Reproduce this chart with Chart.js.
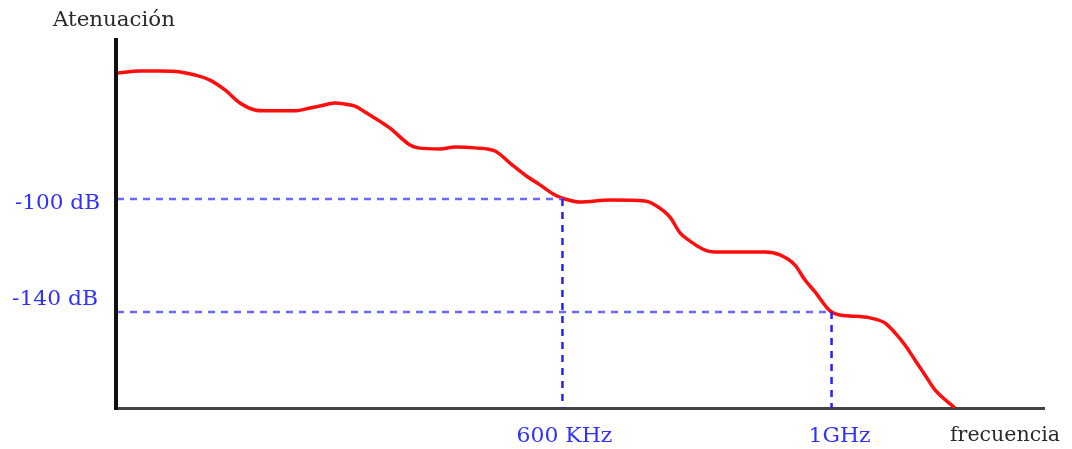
<!DOCTYPE html>
<html>
<head>
<meta charset="utf-8">
<script src="https://cdn.jsdelivr.net/npm/chart.js@4/dist/chart.umd.min.js"></script>
<style>
  html, body { margin: 0; padding: 0; background: #ffffff; }
  #wrap { width: 1072px; height: 449px; position: relative; }
</style>
</head>
<body>
<div id="wrap"><canvas id="c" width="1072" height="449"></canvas></div>
<script>
// ---- Data ----
const freqX = [0, 2.48, 4.63, 6.79, 8.41, 10.02, 11.64, 13.25, 14.87, 15.95, 19.18, 20.80, 21.88, 23.49, 24.57, 25.65, 26.72, 29.42, 31.57, 32.44, 34.81, 36.42, 38.58, 40.73, 42.35, 43.97, 45.58, 47.20, 48.28, 49.89, 53.13, 56.90, 57.97, 59.59, 60.67, 61.75, 63.36, 64.44, 69.83, 71.44, 73.06, 74.14, 75.22, 76.83, 77.91, 78.99, 81.14, 82.76, 83.84, 84.91, 85.99, 87.07, 88.15, 90.30];
const attenDb = [-55.4, -54.7, -54.7, -55.0, -56.1, -57.9, -61.4, -66.0, -68.5, -68.8, -68.8, -67.8, -67.1, -66.0, -66.4, -67.1, -69.2, -74.9, -80.9, -81.9, -82.3, -81.6, -81.9, -83.0, -87.3, -91.5, -95.0, -98.6, -100.0, -101.1, -100.4, -100.7, -102.1, -106.4, -112.0, -114.9, -118.1, -118.8, -118.8, -119.8, -123.4, -128.7, -132.9, -139.6, -141.1, -141.4, -142.1, -143.9, -147.4, -151.7, -157.0, -162.3, -167.6, -174.0];

const markerDb = [-100, -140];
const markerDbLabels = ["-100 dB", "-140 dB"];
const markerFreq = [48, 77];
const markerFreqLabels = ["600 KHz", "1GHz"];
const yAxisTitle = "Atenuación";
const xAxisTitle = "frecuencia";

const X_MIN = 0, X_MAX = 100, Y_MIN = -174, Y_MAX = -43;

const curve = freqX.map((x, i) => ({ x: x, y: attenDb[i] }));
const guides = markerDb.map((db, i) => ([
  { x: X_MIN, y: db }, { x: markerFreq[i], y: db }, { x: markerFreq[i], y: Y_MIN }
]));

const FONT = '"DejaVu Serif", "Liberation Serif", serif';

function fitText(ctx, text, x, yMid, width, size, color, weight) {
  ctx.save();
  ctx.font = (weight || 'normal') + ' ' + size + 'px ' + FONT;
  ctx.fillStyle = color;
  ctx.textBaseline = 'middle';
  ctx.textAlign = 'left';
  const w = ctx.measureText(text).width;
  ctx.translate(x, yMid);
  ctx.scale(width / w, 1);
  ctx.fillText(text, 0, 0);
  ctx.restore();
}

const decor = {
  id: 'decor',
  beforeDatasetsDraw(chart) {
    const { ctx, chartArea: a } = chart;
    ctx.save();
    ctx.fillStyle = '#444444';
    ctx.fillRect(a.left - 3, a.bottom - 1, a.right - a.left + 3, 3);
    ctx.restore();
  },
  afterDatasetsDraw(chart) {
    const { ctx, chartArea: a, scales } = chart;
    ctx.save();
    ctx.fillStyle = '#111111';
    ctx.fillRect(a.left - 3, a.top, 4, a.bottom - a.top + 2);
    const blue = '#3030ff';
    const y100 = scales.y.getPixelForValue(markerDb[0]);
    const y140 = scales.y.getPixelForValue(markerDb[1]);
    fitText(ctx, markerDbLabels[0], 15, y100 + 5, 85, 20, blue);
    fitText(ctx, markerDbLabels[1], 12, y140 - 12, 86, 20, blue);
    const x600 = scales.x.getPixelForValue(markerFreq[0]);
    const x1g = scales.x.getPixelForValue(markerFreq[1]);
    fitText(ctx, markerFreqLabels[0], x600 - 46, a.bottom + 29, 96, 20, blue);
    fitText(ctx, markerFreqLabels[1], x1g - 23, a.bottom + 29, 62, 20, blue);
    fitText(ctx, xAxisTitle, 950, a.bottom + 28, 110, 20, '#2a2a2a');
    fitText(ctx, yAxisTitle, 53, 21, 122, 21, '#2a2a2a');
    ctx.restore();
  }
};

new Chart(document.getElementById('c'), {
  type: 'line',
  data: {
    datasets: [
      ...guides.map((g, i) => ({
        label: 'guide' + i,
        data: g,
        borderColor: '#6a6aff',
        segment: {
          borderColor: c => c.p0DataIndex === 1 ? '#2222ff' : '#6a6aff'
        },
        borderWidth: 2.5,
        borderDash: [7, 6],
        pointRadius: 0,
        tension: 0,
        fill: false
      })),
      {
        label: yAxisTitle,
        data: curve,
        borderColor: '#ff0d0d',
        borderWidth: 3.5,
        pointRadius: 0,
        cubicInterpolationMode: 'monotone',
        fill: false
      }
    ]
  },
  options: {
    responsive: false,
    animation: false,
    events: [],
    layout: { padding: { left: 117, right: 27, top: 38, bottom: 41 } },
    plugins: { legend: { display: false }, tooltip: { enabled: false } },
    scales: {
      x: { type: 'linear', min: X_MIN, max: X_MAX, display: false },
      y: { type: 'linear', min: Y_MIN, max: Y_MAX, display: false }
    }
  },
  plugins: [decor]
});
</script>
</body>
</html>
